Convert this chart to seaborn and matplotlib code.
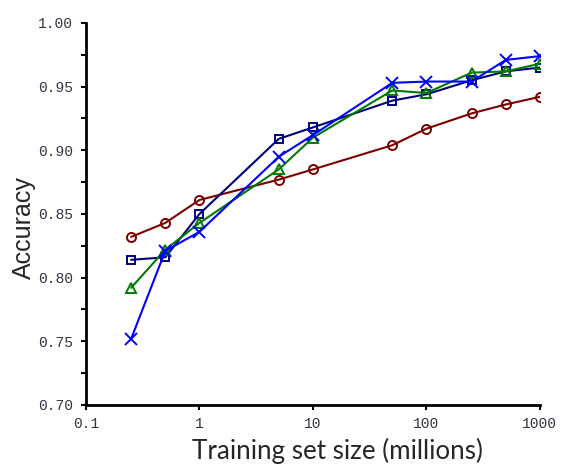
import numpy as np
import pandas as pd
import seaborn as sns
import matplotlib.pyplot as plt
from matplotlib.ticker import MultipleLocator, FixedLocator, NullLocator

# 训练集大小（百万）
sizes = [0.25, 0.5, 1, 5, 10, 50, 100, 250, 500, 1000]
acc_red = [0.832, 0.843, 0.861, 0.877, 0.885, 0.904, 0.917, 0.929, 0.936, 0.942]
acc_navy = [0.814, 0.816, 0.850, 0.909, 0.918, 0.939, 0.944, 0.955, 0.962, 0.965]
acc_green = [0.792, 0.822, 0.843, 0.885, 0.910, 0.947, 0.945, 0.961, 0.962, 0.968]
acc_blue = [0.752, 0.821, 0.836, 0.895, 0.912, 0.953, 0.954, 0.954, 0.971, 0.974]
x_ticks = [0.1, 1, 10, 100, 1000]
x_tick_labels = ["0.1", "1", "10", "100", "1000"]
y_ticks = [0.70, 0.75, 0.80, 0.85, 0.90, 0.95, 1.00]

rows = []
for name, vals in [("red", acc_red), ("navy", acc_navy), ("green", acc_green), ("blue", acc_blue)]:
    for s, v in zip(sizes, vals):
        rows.append({"size": s, "acc": v, "series": name})
df = pd.DataFrame(rows)

sns.set_style("ticks")
f = plt.figure(figsize=(5.79, 4.73), dpi=100)
ax = f.add_axes([0.1485, 0.1438, 0.784, 0.8076])

colors = {"red": "#7b0000", "navy": "#00007b", "green": "#007b00", "blue": "#0000ff"}
markers = {"red": "o", "navy": "s", "green": "^", "blue": "x"}
sizes_m = {"red": 6.5, "navy": 6, "green": 7, "blue": 9}
for name in ["red", "navy", "green", "blue"]:
    sub = df[df["series"] == name]
    mfc = "none" if name != "blue" else colors[name]
    sns.lineplot(data=sub, x="size", y="acc", ax=ax, color=colors[name],
                 marker=markers[name], markersize=sizes_m[name],
                 markerfacecolor=mfc, markeredgecolor=colors[name],
                 markeredgewidth=1.4, linewidth=1.5, legend=False)

ax.set_xscale("log")
ax.set_xlim(0.1, 1000)
ax.set_ylim(0.70, 1.00)
ax.xaxis.set_major_locator(FixedLocator(x_ticks))
ax.xaxis.set_minor_locator(NullLocator())
ax.set_xticklabels(x_tick_labels)
ax.yaxis.set_major_locator(FixedLocator(y_ticks))
ax.yaxis.set_minor_locator(MultipleLocator(0.025))
ax.set_yticklabels(["%.2f" % t for t in y_ticks])

for lab in ax.get_xticklabels() + ax.get_yticklabels():
    lab.set_family(["Liberation Mono", "DejaVu Sans Mono"])
    lab.set_fontsize(10.5)
    lab.set_color("#333344")

ax.tick_params(axis="both", which="major", direction="out", length=3.5, width=1.5, color="black")
ax.tick_params(axis="y", which="minor", direction="out", length=3.5, width=1.5, color="black")
ax.tick_params(axis="x", pad=5)
ax.tick_params(axis="y", pad=6)

for sp in ["left", "bottom"]:
    ax.spines[sp].set_linewidth(2)
    ax.spines[sp].set_color("black")
sns.despine(ax=ax)

ax.set_xlabel("Training set size (millions)", family=["Lato", "DejaVu Sans"], fontsize=18.7)
ax.xaxis.set_label_coords(0.555, -0.085)
ax.xaxis.label.set_va("top")
ax.set_ylabel("Accuracy", family=["Liberation Sans", "DejaVu Sans"], fontsize=18)
ax.yaxis.set_label_coords(-0.11, 0.465)

f.savefig("out.png", dpi=100)
